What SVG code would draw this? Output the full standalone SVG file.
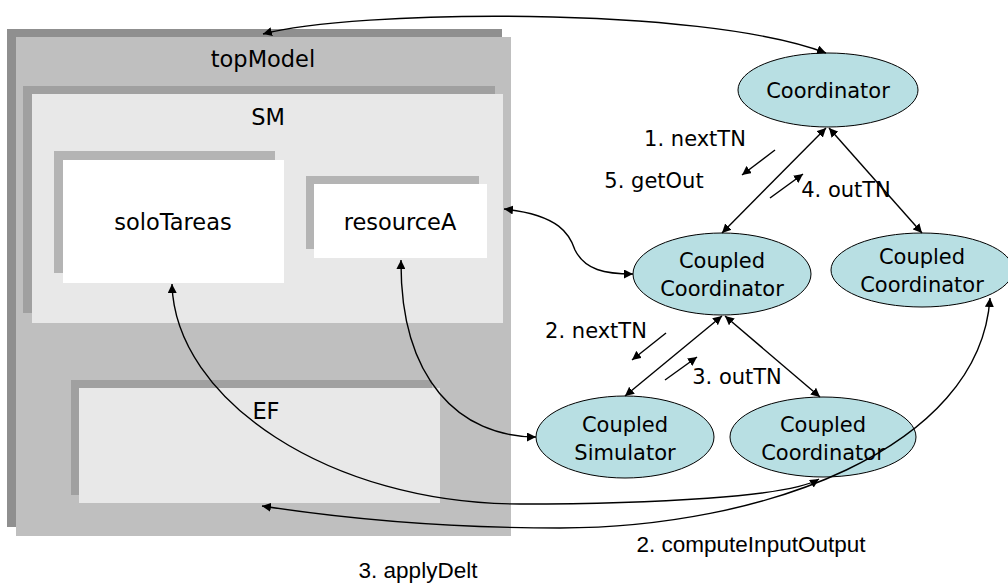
<svg xmlns="http://www.w3.org/2000/svg" width="1008" height="585" viewBox="0 0 1008 585">
<style>
.t{font-family:"DejaVu Sans","Liberation Sans",sans-serif;font-size:21px;fill:#000;text-anchor:middle}
.b{font-size:22.5px}
.a{font-family:"Liberation Sans",Arial,sans-serif;font-size:22.5px;fill:#000;text-anchor:middle}
.el{fill:#b8dfe3;stroke:#000;stroke-width:1}
.c{fill:none;stroke:#000;stroke-width:1.4}
</style>
<defs>
<marker id="ah" viewBox="0 0 10 10" refX="10" refY="5" markerWidth="9" markerHeight="9" markerUnits="userSpaceOnUse" orient="auto-start-reverse">
<path d="M0,0 L10,5 L0,10 z" fill="#000"/>
</marker>
</defs>
<g id="topModel">
<rect x="7" y="29" width="495" height="498" fill="#8f8f8f"/>
<rect x="16" y="37" width="495" height="499" fill="#bfbfbf"/>
<text class="t b" x="263" y="67">topModel</text>
</g>
<g id="SM">
<rect x="23" y="86" width="472" height="227" fill="#a0a0a0"/>
<rect x="32" y="94" width="471" height="229" fill="#e8e8e8"/>
<text class="t b" x="268" y="125">SM</text>
</g>
<g id="soloTareas">
<rect x="54" y="151" width="221" height="122" fill="#b4b4b4"/>
<rect x="63" y="160" width="221" height="123" fill="#ffffff"/>
<text class="t b" x="173" y="230">soloTareas</text>
</g>
<g id="resourceA">
<rect x="306" y="176" width="173" height="73" fill="#b4b4b4"/>
<rect x="314" y="184" width="173" height="74" fill="#ffffff"/>
<text class="t b" x="400" y="230">resourceA</text>
</g>
<g id="EF">
<rect x="71" y="380" width="361" height="115" fill="#a0a0a0"/>
<rect x="79" y="388" width="361" height="115" fill="#e8e8e8"/>
<text class="t b" x="266" y="419">EF</text>
</g>
<g id="Coordinator">
<ellipse class="el" cx="828" cy="90" rx="90" ry="37"/>
<text class="t" x="828" y="98">Coordinator</text>
</g>
<g id="CoupledCoordinator1">
<ellipse class="el" cx="722" cy="274" rx="89" ry="41"/>
<text class="t" x="722" y="268">Coupled</text>
<text class="t" x="722" y="296">Coordinator</text>
</g>
<g id="CoupledCoordinator2">
<ellipse class="el" cx="922" cy="270" rx="91" ry="37"/>
<text class="t" x="922" y="264">Coupled</text>
<text class="t" x="922" y="292">Coordinator</text>
</g>
<g id="CoupledSimulator">
<ellipse class="el" cx="625" cy="437" rx="89" ry="41"/>
<text class="t" x="625" y="432">Coupled</text>
<text class="t" x="625" y="460">Simulator</text>
</g>
<g id="CoupledCoordinator3">
<ellipse class="el" cx="823" cy="437" rx="93" ry="40"/>
<text class="t" x="823" y="432">Coupled</text>
<text class="t" x="823" y="460">Coordinator</text>
</g>
<g id="connectors">
<path class="c" d="M263,34 C350,10 700,5 826,53" marker-start="url(#ah)" marker-end="url(#ah)"/>
<path class="c" d="M826,128 L722,233" marker-start="url(#ah)" marker-end="url(#ah)"/>
<path class="c" d="M829,128 L922,233" marker-start="url(#ah)" marker-end="url(#ah)"/>
<path class="c" d="M722,316 L625,396" marker-start="url(#ah)" marker-end="url(#ah)"/>
<path class="c" d="M725,316 L820,397" marker-start="url(#ah)" marker-end="url(#ah)"/>
<path class="c" d="M504,209 C560,215 570,235 575,250 C585,270 605,274 633,274" marker-start="url(#ah)" marker-end="url(#ah)"/>
<path class="c" d="M401,260 C400,380 460,437 536,437" marker-start="url(#ah)" marker-end="url(#ah)"/>
<path class="c" d="M172,284 C175,400 330,504 520,504 C650,504 790,497 819,479" marker-start="url(#ah)" marker-end="url(#ah)"/>
<path class="c" d="M262,506 C380,524 480,528 560,528 C760,528 980,450 990,298" marker-start="url(#ah)" marker-end="url(#ah)"/>
<path class="c" d="M775,150 L742,175" marker-end="url(#ah)"/>
<path class="c" d="M770,198 L803,174" marker-end="url(#ah)"/>
<path class="c" d="M666,333 L632,360" marker-end="url(#ah)"/>
<path class="c" d="M665,380 L697,357" marker-end="url(#ah)"/>
</g>
<g id="labels">
<text class="t" x="695" y="146">1. nextTN</text>
<text class="t" x="654" y="188">5. getOut</text>
<text class="t" x="846" y="197">4. outTN</text>
<text class="t" x="596" y="338">2. nextTN</text>
<text class="t" x="737" y="384">3. outTN</text>
<text class="a" x="751" y="552">2. computeInputOutput</text>
<text class="a" x="418" y="578">3. applyDelt</text>
</g>
</svg>
